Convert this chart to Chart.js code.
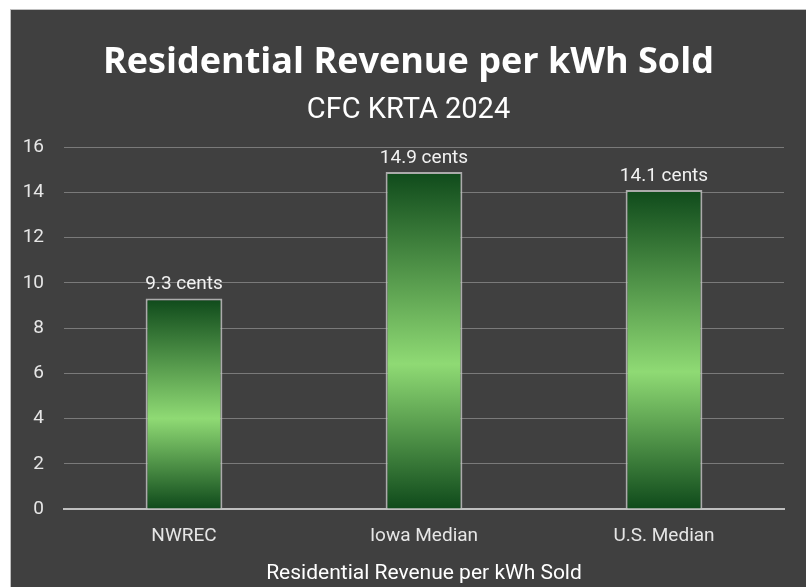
<!DOCTYPE html>
<html>
<head>
<meta charset="utf-8">
<script src="https://cdn.jsdelivr.net/npm/chart.js@4"></script>
<style>
  html, body { margin: 0; padding: 0; background: #fff; width: 806px; height: 587px; overflow: hidden; }
  #box { position: absolute; left: 10px; top: 9px; width: 795px; height: 580px; background: #404040; border: 1px solid #bfbfbf; }
</style>
</head>
<body>
<div id="box"><canvas id="chart" width="795" height="580"></canvas></div>
<script>
const categories = ['NWREC', 'Iowa Median', 'U.S. Median'];
const values = [9.3, 14.9, 14.1];
const yTicks = [0, 2, 4, 6, 8, 10, 12, 14, 16];

// vertical gradient per bar: dark at both ends, light in the middle
function barGradient(ctx) {
  const chart = ctx.chart;
  if (!chart.chartArea || ctx.type !== 'data') return '#4a9a45';
  const y = chart.scales.y;
  const top = y.getPixelForValue(ctx.raw);
  const bottom = y.getPixelForValue(0);
  const g = chart.ctx.createLinearGradient(0, top, 0, bottom);
  g.addColorStop(0, '#0f4a1b');
  g.addColorStop(0.57, '#8fda74');
  g.addColorStop(1, '#0f4a1b');
  return g;
}

const valueLabels = {
  id: 'valueLabels',
  afterDatasetsDraw(chart) {
    const ctx = chart.ctx;
    const meta = chart.getDatasetMeta(0);
    ctx.save();
    ctx.fillStyle = '#f2f2f2';
    ctx.font = '19px Roboto';
    ctx.textAlign = 'center';
    ctx.textBaseline = 'middle';
    meta.data.forEach((bar, i) => {
      ctx.fillText(values[i] + ' cents', bar.x, bar.y - 14);
    });
    ctx.restore();
  }
};

new Chart(document.getElementById('chart'), {
  type: 'bar',
  data: {
    labels: categories,
    datasets: [{
      data: values,
      backgroundColor: barGradient,
      borderColor: 'rgba(190,190,190,0.85)',
      borderWidth: 2,
      barPercentage: 0.32,
      categoryPercentage: 1
    }]
  },
  options: {
    responsive: false,
    animation: false,
    layout: { padding: { left: 0, right: 0, top: 0, bottom: 4 } },
    plugins: {
      legend: { display: false },
      tooltip: { enabled: false },
      title: {
        display: true,
        text: 'Residential Revenue per kWh Sold',
        color: '#ffffff',
        font: { family: 'Open Sans', size: 36, weight: 'bold' },
        padding: { top: 31, bottom: 9 }
      },
      subtitle: {
        display: true,
        text: 'CFC KRTA 2024',
        color: '#ffffff',
        font: { family: 'Roboto', size: 29 },
        padding: { top: 0, bottom: 19 }
      }
    },
    scales: {
      x: {
        grid: { display: false },
        border: { color: '#bfbfbf', width: 2 },
        ticks: { color: '#e6e6e6', font: { family: 'Roboto', size: 19 }, padding: 8 },
        title: {
          display: true,
          text: 'Residential Revenue per kWh Sold',
          color: '#ffffff',
          font: { family: 'Roboto', size: 21 },
          padding: { top: 5, bottom: 0 }
        }
      },
      y: {
        min: 0,
        max: 16,
        afterBuildTicks(scale) { scale.ticks = yTicks.map(v => ({ value: v })); },
        afterFit(scale) { scale.width = 53; },
        grid: { color: '#7a7a7a', lineWidth: 1, drawTicks: false },
        border: { display: false },
        ticks: { color: '#e6e6e6', font: { family: 'Roboto', size: 19 }, padding: 20 }
      },
      // empty right-hand spacer so the plot ends where the reference does
      yRight: {
        position: 'right',
        display: true,
        afterFit(scale) { scale.width = 22; },
        grid: { display: false },
        border: { display: false },
        ticks: { display: false }
      }
    }
  },
  plugins: [valueLabels]
});
</script>
</body>
</html>
